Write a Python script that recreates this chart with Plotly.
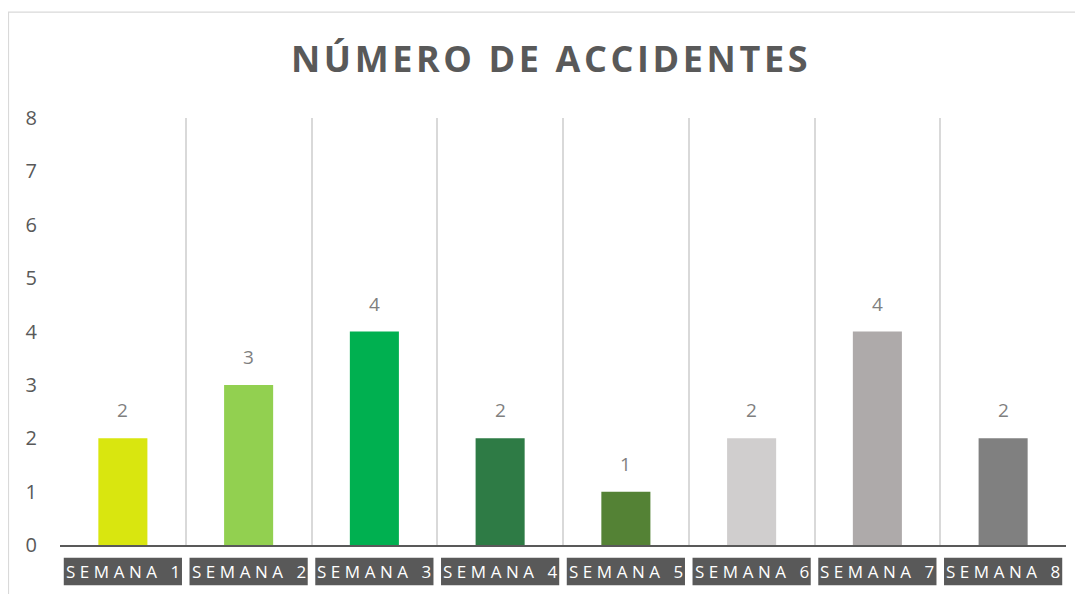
import plotly.graph_objects as go

categories = ["SEMANA 1", "SEMANA 2", "SEMANA 3", "SEMANA 4",
              "SEMANA 5", "SEMANA 6", "SEMANA 7", "SEMANA 8"]
values = [2, 3, 4, 2, 1, 2, 4, 2]
colors = ["#D9E60F", "#92D050", "#00B050", "#2E7B45",
          "#548235", "#D0CECE", "#AEAAAA", "#808080"]
title_text = "NÚMERO DE ACCIDENTES"

FONT = "Open Sans"

def spaced(s, sep="\u2009"):
    return sep.join(list(s))

fig = go.Figure()
fig.add_trace(go.Bar(
    x=categories, y=values, marker=dict(color=colors, line=dict(width=0)),
    width=0.39, hoverinfo="x+y",
))

annotations = []
shapes = []
for i, (c, v) in enumerate(zip(categories, values)):
    annotations.append(dict(
        x=c, y=v, xref="x", yref="y", text=str(v), showarrow=False,
        yanchor="bottom", yshift=13,
        font=dict(family=FONT, size=19, color="#7F7F7F"),
    ))
    shapes.append(dict(
        type="rect", xref="x", yref="paper",
        x0=i - 0.47, x1=i + 0.47, y0=-0.094, y1=-0.030,
        fillcolor="#595959", line=dict(width=0), layer="above",
    ))
    annotations.append(dict(
        x=c, y=-0.062, xref="x", yref="paper",
        text=spaced(c, "\u2009\u200a"), showarrow=False,
        xanchor="center", yanchor="middle",
        font=dict(family=FONT, size=17, color="#FFFFFF"),
    ))

# outer chart border
shapes.append(dict(
    type="rect", xref="paper", yref="paper",
    x0=-0.0512, x1=1.012, y0=-0.3, y1=1.248,
    line=dict(color="#D9D9D9", width=1.2), fillcolor="rgba(0,0,0,0)", layer="below",
))

annotations.append(dict(
    x=0.487, y=1.14, xref="paper", yref="paper", showarrow=False,
    text="<b>" + spaced(title_text, "\u200a") + "</b>",
    xanchor="center", yanchor="middle",
    font=dict(family=FONT, size=36, color="#595959"),
))

fig.update_layout(
    width=1075, height=586,
    margin=dict(l=52, r=17, t=110, b=49),
    paper_bgcolor="#FFFFFF", plot_bgcolor="#FFFFFF",
    showlegend=False,
    annotations=annotations, shapes=shapes,
    xaxis=dict(
        type="category", showticklabels=False, tickson="boundaries",
        showgrid=True, gridcolor="#D9D9D9", gridwidth=1.5,
        showline=True, linecolor="#595959", linewidth=1.5,
        ticks="", zeroline=False,
    ),
    yaxis=dict(
        range=[0, 8], dtick=1, showgrid=False, zeroline=False,
        showline=False, ticks="", ticklabelstandoff=22,
        tickfont=dict(family=FONT, size=20, color="#595959"),
    ),
)

fig.write_html("out.html")
